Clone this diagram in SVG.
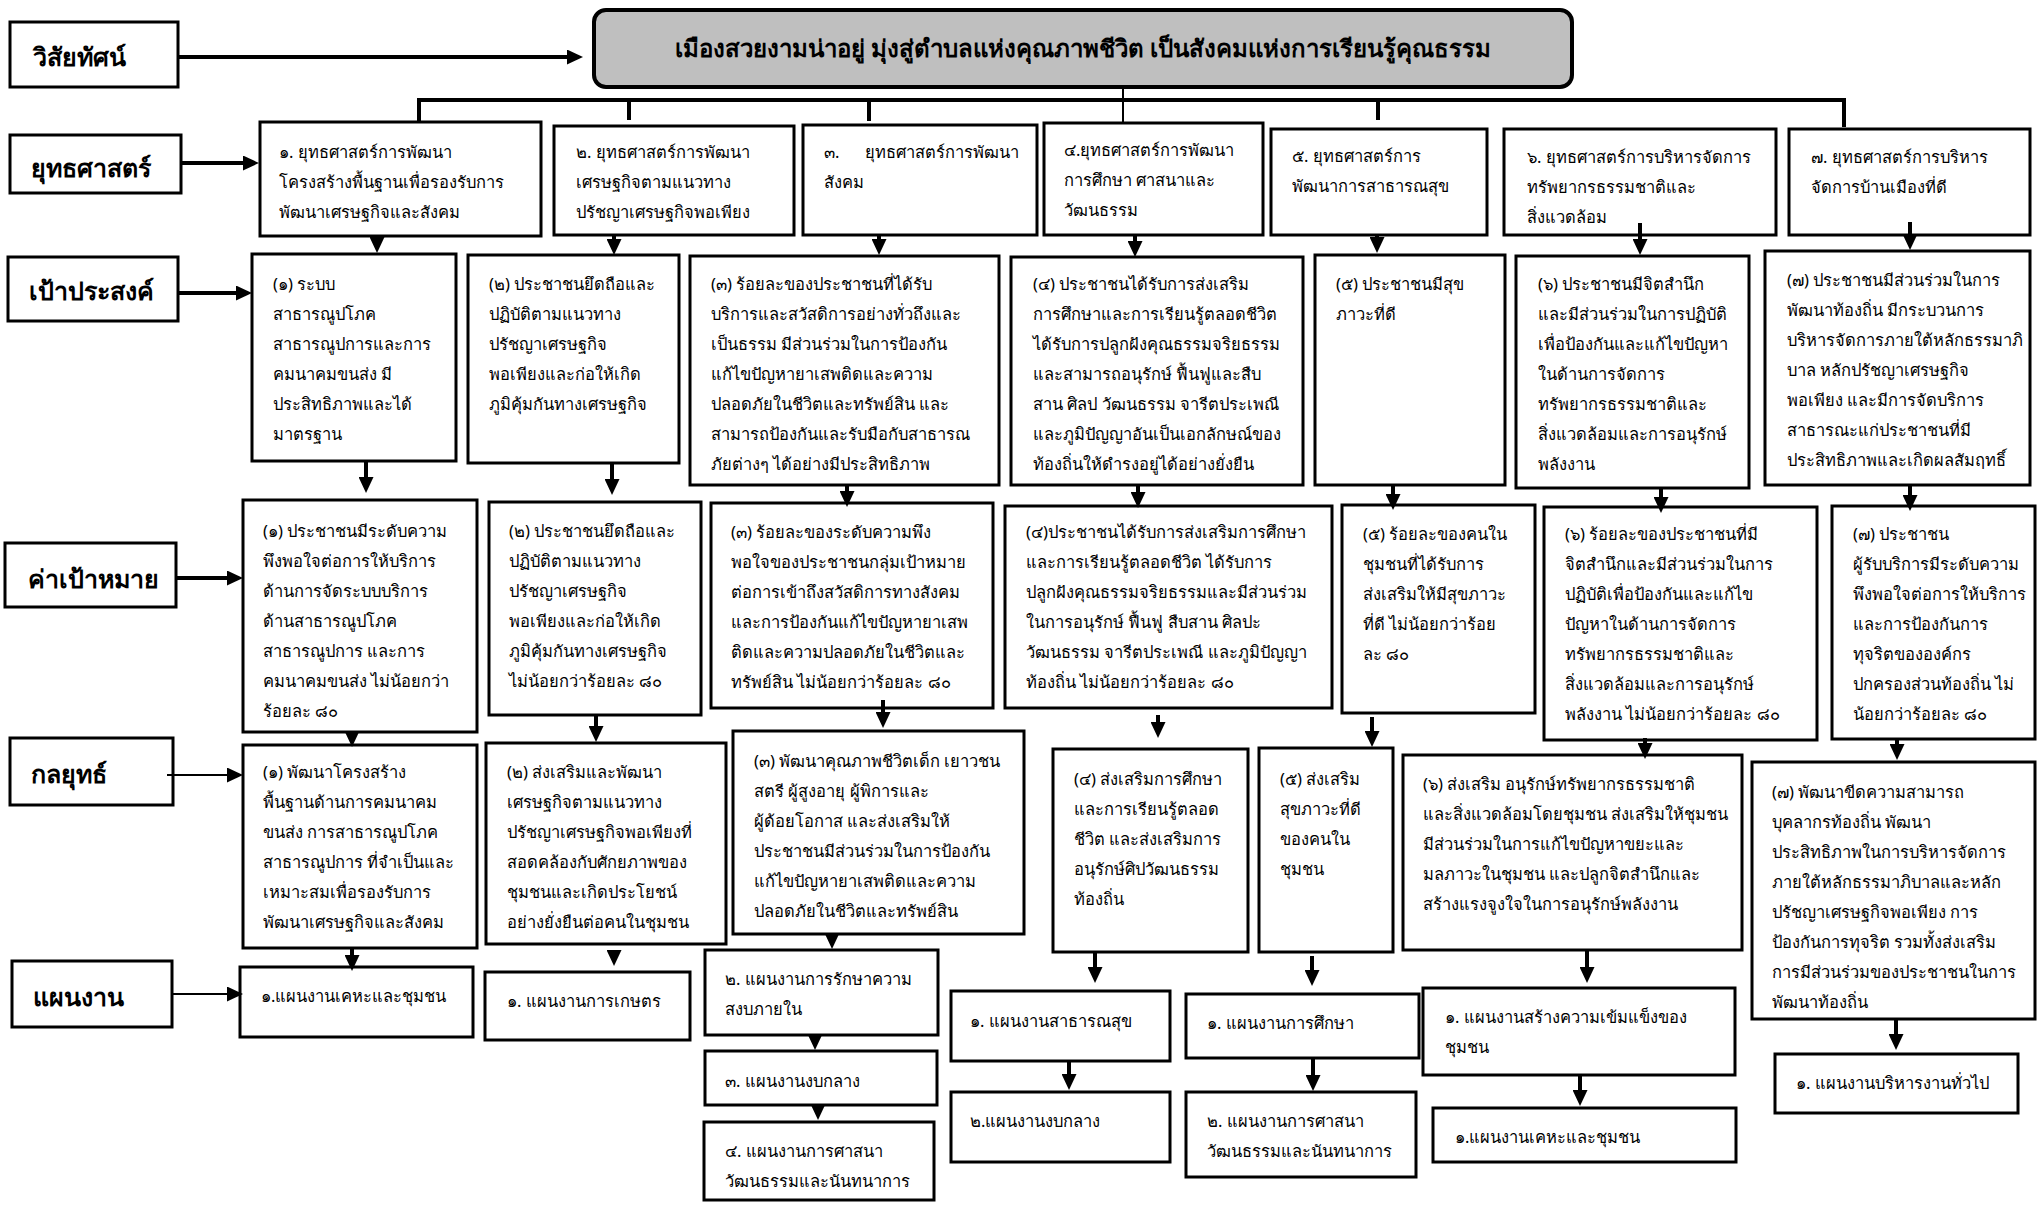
<svg xmlns="http://www.w3.org/2000/svg" width="2040" height="1206" viewBox="0 0 2040 1206">
<style>
text{font-family:"Noto Sans","Liberation Sans",sans-serif;fill:#000;font-size:16.5px}
.lt{font-size:25px;font-weight:bold}
.vt{font-size:24px;font-weight:bold}
.box{fill:#fff;stroke:#000;stroke-width:3}
.vis{fill:#bfbfbf;stroke:#000;stroke-width:4}
.ln{fill:none;stroke:#000;stroke-width:4}
.thin{stroke-width:2}
</style>
<defs>
<marker id="ah" viewBox="0 0 16 15" markerUnits="userSpaceOnUse" markerWidth="16" markerHeight="15" refX="6" refY="7.5" orient="auto"><path d="M0,0 L16,7.5 L0,15 z" fill="#000"/></marker>
</defs>
<rect width="2040" height="1206" fill="#fff"/>
<g id="label-vision"><rect class="box" x="10" y="22" width="168" height="65"/><text class="lt" x="33" y="66">วิสัยทัศน์</text></g>
<g id="label-strategy"><rect class="box" x="10" y="135" width="171" height="58"/><text class="lt" x="31" y="177">ยุทธศาสตร์</text></g>
<g id="label-goal"><rect class="box" x="8" y="257" width="170" height="64"/><text class="lt" x="29" y="300">เป้าประสงค์</text></g>
<g id="label-target"><rect class="box" x="5" y="543" width="171" height="64"/><text class="lt" x="28" y="588">ค่าเป้าหมาย</text></g>
<g id="label-tactic"><rect class="box" x="10" y="738" width="163" height="67"/><text class="lt" x="31" y="783">กลยุทธ์</text></g>
<g id="label-plan"><rect class="box" x="12" y="961" width="160" height="66"/><text class="lt" x="33" y="1006">แผนงาน</text></g>
<g id="vision"><rect class="vis" x="594" y="10" width="978" height="77" rx="12"/><text class="vt" x="1083" y="57" text-anchor="middle">เมืองสวยงามน่าอยู่ มุ่งสู่ตำบลแห่งคุณภาพชีวิต เป็นสังคมแห่งการเรียนรู้คุณธรรม</text></g>
<g id="s1"><rect class="box" x="260" y="122" width="281" height="114"/><text x="279" y="158">๑. ยุทธศาสตร์การพัฒนา<tspan x="279" dy="30">โครงสร้างพื้นฐานเพื่อรองรับการ</tspan><tspan x="279" dy="30">พัฒนาเศรษฐกิจและสังคม</tspan></text></g>
<g id="s2"><rect class="box" x="554" y="126" width="240" height="109"/><text x="576" y="158">๒. ยุทธศาสตร์การพัฒนา<tspan x="576" dy="30">เศรษฐกิจตามแนวทาง</tspan><tspan x="576" dy="30">ปรัชญาเศรษฐกิจพอเพียง</tspan></text></g>
<g id="s3"><rect class="box" x="803" y="125" width="234" height="110"/><text x="824" y="158">๓.<tspan x="865">ยุทธศาสตร์การพัฒนา</tspan><tspan x="824" dy="30">สังคม</tspan></text></g>
<g id="s4"><rect class="box" x="1044" y="123" width="219" height="112"/><text x="1064" y="156">๔.ยุทธศาสตร์การพัฒนา<tspan x="1064" dy="30">การศึกษา ศาสนาและ</tspan><tspan x="1064" dy="30">วัฒนธรรม</tspan></text></g>
<g id="s5"><rect class="box" x="1271" y="129" width="216" height="106"/><text x="1292" y="162">๕. ยุทธศาสตร์การ<tspan x="1292" dy="30">พัฒนาการสาธารณสุข</tspan></text></g>
<g id="s6"><rect class="box" x="1504" y="129" width="272" height="106"/><text x="1527" y="163">๖.  ยุทธศาสตร์การบริหารจัดการ<tspan x="1527" dy="30">ทรัพยากรธรรมชาติและ</tspan><tspan x="1527" dy="30">สิ่งแวดล้อม</tspan></text></g>
<g id="s7"><rect class="box" x="1789" y="129" width="241" height="106"/><text x="1811" y="163">๗. ยุทธศาสตร์การบริหาร<tspan x="1811" dy="30">จัดการบ้านเมืองที่ดี</tspan></text></g>
<g id="g1"><rect class="box" x="252" y="254" width="204" height="207"/><text x="273" y="290">(๑) ระบบ<tspan x="273" dy="30">สาธารณูปโภค</tspan><tspan x="273" dy="30">สาธารณูปการและการ</tspan><tspan x="273" dy="30">คมนาคมขนส่ง มี</tspan><tspan x="273" dy="30">ประสิทธิภาพและได้</tspan><tspan x="273" dy="30">มาตรฐาน</tspan></text></g>
<g id="g2"><rect class="box" x="468" y="255" width="211" height="208"/><text x="489" y="290">(๒) ประชาชนยึดถือและ<tspan x="489" dy="30">ปฏิบัติตามแนวทาง</tspan><tspan x="489" dy="30">ปรัชญาเศรษฐกิจ</tspan><tspan x="489" dy="30">พอเพียงและก่อให้เกิด</tspan><tspan x="489" dy="30">ภูมิคุ้มกันทางเศรษฐกิจ</tspan></text></g>
<g id="g3"><rect class="box" x="690" y="256" width="309" height="229"/><text x="711" y="290">(๓) ร้อยละของประชาชนที่ได้รับ<tspan x="711" dy="30">บริการและสวัสดิการอย่างทั่วถึงและ</tspan><tspan x="711" dy="30">เป็นธรรม มีส่วนร่วมในการป้องกัน</tspan><tspan x="711" dy="30">แก้ไขปัญหายาเสพติดและความ</tspan><tspan x="711" dy="30">ปลอดภัยในชีวิตและทรัพย์สิน และ</tspan><tspan x="711" dy="30">สามารถป้องกันและรับมือกับสาธารณ</tspan><tspan x="711" dy="30">ภัยต่างๆ ได้อย่างมีประสิทธิภาพ</tspan></text></g>
<g id="g4"><rect class="box" x="1011" y="257" width="292" height="228"/><text x="1033" y="290">(๔) ประชาชนได้รับการส่งเสริม<tspan x="1033" dy="30">การศึกษาและการเรียนรู้ตลอดชีวิต</tspan><tspan x="1033" dy="30">ได้รับการปลูกฝังคุณธรรมจริยธรรม</tspan><tspan x="1033" dy="30">และสามารถอนุรักษ์ ฟื้นฟูและสืบ</tspan><tspan x="1033" dy="30">สาน ศิลป วัฒนธรรม จารีตประเพณี</tspan><tspan x="1033" dy="30">และภูมิปัญญาอันเป็นเอกลักษณ์ของ</tspan><tspan x="1033" dy="30">ท้องถิ่นให้ดำรงอยู่ได้อย่างยั่งยืน</tspan></text></g>
<g id="g5"><rect class="box" x="1315" y="255" width="190" height="230"/><text x="1336" y="290">(๕) ประชาชนมีสุข<tspan x="1336" dy="30">ภาวะที่ดี</tspan></text></g>
<g id="g6"><rect class="box" x="1516" y="256" width="233" height="232"/><text x="1538" y="290">(๖) ประชาชนมีจิตสำนึก<tspan x="1538" dy="30">และมีส่วนร่วมในการปฏิบัติ</tspan><tspan x="1538" dy="30">เพื่อป้องกันและแก้ไขปัญหา</tspan><tspan x="1538" dy="30">ในด้านการจัดการ</tspan><tspan x="1538" dy="30">ทรัพยากรธรรมชาติและ</tspan><tspan x="1538" dy="30">สิ่งแวดล้อมและการอนุรักษ์</tspan><tspan x="1538" dy="30">พลังงาน</tspan></text></g>
<g id="g7"><rect class="box" x="1765" y="251" width="265" height="234"/><text x="1787" y="286">(๗) ประชาชนมีส่วนร่วมในการ<tspan x="1787" dy="30">พัฒนาท้องถิ่น มีกระบวนการ</tspan><tspan x="1787" dy="30">บริหารจัดการภายใต้หลักธรรมาภิ</tspan><tspan x="1787" dy="30">บาล หลักปรัชญาเศรษฐกิจ</tspan><tspan x="1787" dy="30">พอเพียง และมีการจัดบริการ</tspan><tspan x="1787" dy="30">สาธารณะแก่ประชาชนที่มี</tspan><tspan x="1787" dy="30">ประสิทธิภาพและเกิดผลสัมฤทธิ์</tspan></text></g>
<g id="t1"><rect class="box" x="243" y="500" width="234" height="232"/><text x="263" y="537">(๑) ประชาชนมีระดับความ<tspan x="263" dy="30">พึงพอใจต่อการให้บริการ</tspan><tspan x="263" dy="30">ด้านการจัดระบบบริการ</tspan><tspan x="263" dy="30">ด้านสาธารณูปโภค</tspan><tspan x="263" dy="30">สาธารณูปการ และการ</tspan><tspan x="263" dy="30">คมนาคมขนส่ง ไม่น้อยกว่า</tspan><tspan x="263" dy="30">ร้อยละ ๘๐</tspan></text></g>
<g id="t2"><rect class="box" x="489" y="502" width="212" height="213"/><text x="509" y="537">(๒) ประชาชนยึดถือและ<tspan x="509" dy="30">ปฏิบัติตามแนวทาง</tspan><tspan x="509" dy="30">ปรัชญาเศรษฐกิจ</tspan><tspan x="509" dy="30">พอเพียงและก่อให้เกิด</tspan><tspan x="509" dy="30">ภูมิคุ้มกันทางเศรษฐกิจ</tspan><tspan x="509" dy="30">ไม่น้อยกว่าร้อยละ ๘๐</tspan></text></g>
<g id="t3"><rect class="box" x="711" y="503" width="282" height="205"/><text x="731" y="538">(๓) ร้อยละของระดับความพึง<tspan x="731" dy="30">พอใจของประชาชนกลุ่มเป้าหมาย</tspan><tspan x="731" dy="30">ต่อการเข้าถึงสวัสดิการทางสังคม</tspan><tspan x="731" dy="30">และการป้องกันแก้ไขปัญหายาเสพ</tspan><tspan x="731" dy="30">ติดและความปลอดภัยในชีวิตและ</tspan><tspan x="731" dy="30">ทรัพย์สิน ไม่น้อยกว่าร้อยละ ๘๐</tspan></text></g>
<g id="t4"><rect class="box" x="1005" y="506" width="327" height="202"/><text x="1026" y="538">(๔)ประชาชนได้รับการส่งเสริมการศึกษา<tspan x="1026" dy="30">และการเรียนรู้ตลอดชีวิต ได้รับการ</tspan><tspan x="1026" dy="30">ปลูกฝังคุณธรรมจริยธรรมและมีส่วนร่วม</tspan><tspan x="1026" dy="30">ในการอนุรักษ์ ฟื้นฟู สืบสาน ศิลปะ</tspan><tspan x="1026" dy="30">วัฒนธรรม จารีตประเพณี และภูมิปัญญา</tspan><tspan x="1026" dy="30">ท้องถิ่น  ไม่น้อยกว่าร้อยละ ๘๐</tspan></text></g>
<g id="t5"><rect class="box" x="1342" y="505" width="193" height="208"/><text x="1363" y="540">(๕) ร้อยละของคนใน<tspan x="1363" dy="30">ชุมชนที่ได้รับการ</tspan><tspan x="1363" dy="30">ส่งเสริมให้มีสุขภาวะ</tspan><tspan x="1363" dy="30">ที่ดี ไม่น้อยกว่าร้อย</tspan><tspan x="1363" dy="30">ละ ๘๐</tspan></text></g>
<g id="t6"><rect class="box" x="1544" y="507" width="273" height="233"/><text x="1565" y="540">(๖) ร้อยละของประชาชนที่มี<tspan x="1565" dy="30">จิตสำนึกและมีส่วนร่วมในการ</tspan><tspan x="1565" dy="30">ปฏิบัติเพื่อป้องกันและแก้ไข</tspan><tspan x="1565" dy="30">ปัญหาในด้านการจัดการ</tspan><tspan x="1565" dy="30">ทรัพยากรธรรมชาติและ</tspan><tspan x="1565" dy="30">สิ่งแวดล้อมและการอนุรักษ์</tspan><tspan x="1565" dy="30">พลังงาน ไม่น้อยกว่าร้อยละ ๘๐</tspan></text></g>
<g id="t7"><rect class="box" x="1832" y="506" width="203" height="233"/><text x="1853" y="540">(๗) ประชาชน<tspan x="1853" dy="30">ผู้รับบริการมีระดับความ</tspan><tspan x="1853" dy="30">พึงพอใจต่อการให้บริการ</tspan><tspan x="1853" dy="30">และการป้องกันการ</tspan><tspan x="1853" dy="30">ทุจริตขององค์กร</tspan><tspan x="1853" dy="30">ปกครองส่วนท้องถิ่น ไม่</tspan><tspan x="1853" dy="30">น้อยกว่าร้อยละ ๘๐</tspan></text></g>
<g id="k1"><rect class="box" x="243" y="745" width="234" height="203"/><text x="263" y="778">(๑) พัฒนาโครงสร้าง<tspan x="263" dy="30">พื้นฐานด้านการคมนาคม</tspan><tspan x="263" dy="30">ขนส่ง การสาธารณูปโภค</tspan><tspan x="263" dy="30">สาธารณูปการ ที่จำเป็นและ</tspan><tspan x="263" dy="30">เหมาะสมเพื่อรองรับการ</tspan><tspan x="263" dy="30">พัฒนาเศรษฐกิจและสังคม</tspan></text></g>
<g id="k2"><rect class="box" x="486" y="743" width="240" height="201"/><text x="507" y="778">(๒) ส่งเสริมและพัฒนา<tspan x="507" dy="30">เศรษฐกิจตามแนวทาง</tspan><tspan x="507" dy="30">ปรัชญาเศรษฐกิจพอเพียงที่</tspan><tspan x="507" dy="30">สอดคล้องกับศักยภาพของ</tspan><tspan x="507" dy="30">ชุมชนและเกิดประโยชน์</tspan><tspan x="507" dy="30">อย่างยั่งยืนต่อคนในชุมชน</tspan></text></g>
<g id="k3"><rect class="box" x="733" y="731" width="291" height="203"/><text x="754" y="767">(๓) พัฒนาคุณภาพชีวิตเด็ก เยาวชน<tspan x="754" dy="30">สตรี ผู้สูงอายุ ผู้พิการและ</tspan><tspan x="754" dy="30">ผู้ด้อยโอกาส และส่งเสริมให้</tspan><tspan x="754" dy="30">ประชาชนมีส่วนร่วมในการป้องกัน</tspan><tspan x="754" dy="30">แก้ไขปัญหายาเสพติดและความ</tspan><tspan x="754" dy="30">ปลอดภัยในชีวิตและทรัพย์สิน</tspan></text></g>
<g id="k4"><rect class="box" x="1053" y="749" width="195" height="203"/><text x="1074" y="785">(๔) ส่งเสริมการศึกษา<tspan x="1074" dy="30">และการเรียนรู้ตลอด</tspan><tspan x="1074" dy="30">ชีวิต และส่งเสริมการ</tspan><tspan x="1074" dy="30">อนุรักษ์ศิปวัฒนธรรม</tspan><tspan x="1074" dy="30">ท้องถิ่น</tspan></text></g>
<g id="k5"><rect class="box" x="1259" y="748" width="134" height="204"/><text x="1280" y="785">(๕) ส่งเสริม<tspan x="1280" dy="30">สุขภาวะที่ดี</tspan><tspan x="1280" dy="30">ของคนใน</tspan><tspan x="1280" dy="30">ชุมชน</tspan></text></g>
<g id="k6"><rect class="box" x="1403" y="755" width="339" height="195"/><text x="1423" y="790">(๖) ส่งเสริม อนุรักษ์ทรัพยากรธรรมชาติ<tspan x="1423" dy="30">และสิ่งแวดล้อมโดยชุมชน ส่งเสริมให้ชุมชน</tspan><tspan x="1423" dy="30">มีส่วนร่วมในการแก้ไขปัญหาขยะและ</tspan><tspan x="1423" dy="30">มลภาวะในชุมชน และปลูกจิตสำนึกและ</tspan><tspan x="1423" dy="30">สร้างแรงจูงใจในการอนุรักษ์พลังงาน</tspan></text></g>
<g id="k7"><rect class="box" x="1752" y="762" width="283" height="257"/><text x="1772" y="798">(๗) พัฒนาขีดความสามารถ<tspan x="1772" dy="30">บุคลากรท้องถิ่น พัฒนา</tspan><tspan x="1772" dy="30">ประสิทธิภาพในการบริหารจัดการ</tspan><tspan x="1772" dy="30">ภายใต้หลักธรรมาภิบาลและหลัก</tspan><tspan x="1772" dy="30">ปรัชญาเศรษฐกิจพอเพียง การ</tspan><tspan x="1772" dy="30">ป้องกันการทุจริต รวมทั้งส่งเสริม</tspan><tspan x="1772" dy="30">การมีส่วนร่วมของประชาชนในการ</tspan><tspan x="1772" dy="30">พัฒนาท้องถิ่น</tspan></text></g>
<g id="p1"><rect class="box" x="240" y="967" width="233" height="70"/><text x="261" y="1002">๑.แผนงานเคหะและชุมชน</text></g>
<g id="p2"><rect class="box" x="485" y="972" width="205" height="68"/><text x="507" y="1007">๑. แผนงานการเกษตร</text></g>
<g id="p3a"><rect class="box" x="705" y="950" width="233" height="85"/><text x="725" y="985">๒. แผนงานการรักษาความ<tspan x="725" dy="30">สงบภายใน</tspan></text></g>
<g id="p3b"><rect class="box" x="705" y="1051" width="232" height="54"/><text x="725" y="1087">๓. แผนงานงบกลาง</text></g>
<g id="p3c"><rect class="box" x="704" y="1122" width="230" height="78"/><text x="725" y="1157">๔. แผนงานการศาสนา<tspan x="725" dy="30">วัฒนธรรมและนันทนาการ</tspan></text></g>
<g id="p4a"><rect class="box" x="951" y="991" width="219" height="70"/><text x="970" y="1027">๑. แผนงานสาธารณสุข</text></g>
<g id="p4b"><rect class="box" x="951" y="1092" width="219" height="70"/><text x="970" y="1127">๒.แผนงานงบกลาง</text></g>
<g id="p5a"><rect class="box" x="1186" y="994" width="233" height="64"/><text x="1207" y="1029">๑. แผนงานการศึกษา</text></g>
<g id="p5b"><rect class="box" x="1186" y="1092" width="230" height="85"/><text x="1207" y="1127">๒. แผนงานการศาสนา<tspan x="1207" dy="30">วัฒนธรรมและนันทนาการ</tspan></text></g>
<g id="p6a"><rect class="box" x="1423" y="988" width="312" height="87"/><text x="1445" y="1023">๑. แผนงานสร้างความเข้มแข็งของ<tspan x="1445" dy="30">ชุมชน</tspan></text></g>
<g id="p6b"><rect class="box" x="1433" y="1108" width="303" height="54"/><text x="1455" y="1143">๑.แผนงานเคหะและชุมชน</text></g>
<g id="p7"><rect class="box" x="1775" y="1054" width="243" height="59"/><text x="1796" y="1089">๑. แผนงานบริหารงานทั่วไป</text></g>
<g id="connectors">
<path class="ln" d="M178,57 H573" marker-end="url(#ah)"/>
<path class="ln" d="M181,163 H249" marker-end="url(#ah)"/>
<path class="ln" d="M178,293 H242" marker-end="url(#ah)"/>
<path class="ln" d="M176,578 H233" marker-end="url(#ah)"/>
<path class="ln thin" d="M167,775 H233" marker-end="url(#ah)"/>
<path class="ln thin" d="M172,994 H233" marker-end="url(#ah)"/>
<path class="ln" d="M419,122 V100 H1844 V127"/>
<path class="ln" d="M629,100 V120 M869,100 V121 M1378,100 V120"/>
<path class="ln thin" d="M1123,88 V123"/>
<path class="ln" d="M377,236 V243" marker-end="url(#ah)"/>
<path class="ln" d="M614,236 V245" marker-end="url(#ah)"/>
<path class="ln" d="M879,235 V245" marker-end="url(#ah)"/>
<path class="ln" d="M1135,235 V247" marker-end="url(#ah)"/>
<path class="ln" d="M1377,235 V243" marker-end="url(#ah)"/>
<path class="ln" d="M1640,223 V245" marker-end="url(#ah)"/>
<path class="ln" d="M1910,222 V240" marker-end="url(#ah)"/>
<path class="ln" d="M366,461 V483" marker-end="url(#ah)"/>
<path class="ln" d="M612,463 V485" marker-end="url(#ah)"/>
<path class="ln" d="M847,485 V497" marker-end="url(#ah)"/>
<path class="ln" d="M1138,485 V498" marker-end="url(#ah)"/>
<path class="ln" d="M1393,485 V500" marker-end="url(#ah)"/>
<path class="ln" d="M1661,488 V503" marker-end="url(#ah)"/>
<path class="ln" d="M1910,485 V501" marker-end="url(#ah)"/>
<path class="ln" d="M352,732 V737" marker-end="url(#ah)"/>
<path class="ln" d="M596,715 V732" marker-end="url(#ah)"/>
<path class="ln" d="M883,700 V718" marker-end="url(#ah)"/>
<path class="ln" d="M1158,715 V728" marker-end="url(#ah)"/>
<path class="ln" d="M1372,717 V737" marker-end="url(#ah)"/>
<path class="ln" d="M1645,738 V749" marker-end="url(#ah)"/>
<path class="ln" d="M1897,738 V750" marker-end="url(#ah)"/>
<path class="ln" d="M352,948 V961" marker-end="url(#ah)"/>
<path class="ln" d="M614,950 V956" marker-end="url(#ah)"/>
<path class="ln" d="M832,934 V939" marker-end="url(#ah)"/>
<path class="ln" d="M1095,953 V973" marker-end="url(#ah)"/>
<path class="ln" d="M1312,956 V976" marker-end="url(#ah)"/>
<path class="ln" d="M1587,950 V973" marker-end="url(#ah)"/>
<path class="ln" d="M1896,1019 V1040" marker-end="url(#ah)"/>
<path class="ln" d="M815,1035 V1040" marker-end="url(#ah)"/>
<path class="ln" d="M818,1105 V1110" marker-end="url(#ah)"/>
<path class="ln" d="M1069,1061 V1080" marker-end="url(#ah)"/>
<path class="ln" d="M1313,1058 V1081" marker-end="url(#ah)"/>
<path class="ln" d="M1580,1075 V1096" marker-end="url(#ah)"/>
</g>
</svg>
